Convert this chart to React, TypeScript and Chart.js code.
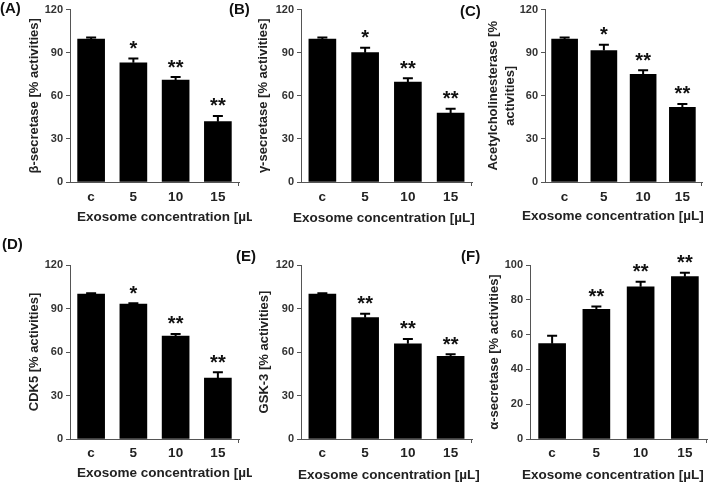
import React, { useEffect, useRef } from 'react';
import { Chart, registerables } from 'chart.js';

Chart.register(...registerables);

// ---------- data ----------
const categories = ['c', '5', '10', '15'];

const betaValues = [99.5, 83, 71, 42];
const betaErrors = [1, 3, 2, 4];
const betaMarks = ['', '*', '**', '**'];

const gammaValues = [99.5, 90, 69.5, 48];
const gammaErrors = [1, 3.5, 2.8, 3];
const gammaMarks = ['', '*', '**', '**'];

const achValues = [99.5, 91.5, 75, 52];
const achErrors = [1, 4, 2.7, 2.3];
const achMarks = ['', '*', '**', '**'];

const cdk5Values = [100, 93, 71, 42];
const cdk5Errors = [0.5, 0.6, 1.5, 4];
const cdk5Marks = ['', '*', '**', '**'];

const gskValues = [100, 83.7, 65.7, 57];
const gskErrors = [0.5, 2.7, 3.3, 1.4];
const gskMarks = ['', '**', '**', '**'];

const alphaValues = [54.8, 74.5, 87.5, 93.3];
const alphaErrors = [4.6, 1.7, 2.9, 2.3];
const alphaMarks = ['', '**', '**', '**'];

const yTicks120 = [0, 30, 60, 90, 120];
const yTicks100 = [0, 20, 40, 60, 80, 100];

const xTitleText = 'Exosome concentration [µL]';

// ---------- layout ----------
const FONT = '"Liberation Sans", Arial, sans-serif';
const AXIS = '#555';

type Spec = {
  label: string; labelLeft: number; labelTop: number;
  left: number; top: number; w: number; h: number;
  yWidth: number; padRight: number; padTop: number; xHeight: number; xPad: number;
  values: number[]; errors: number[]; marks: string[]; ticks: number[];
  yTitle: string[]; yTitleX: number[]; xTitleX: number; xTitleBase: number; barW: number;
};

const specs: Spec[] = [
  { label: '(A)', labelLeft: 0, labelTop: 0, left: 0, top: 0, w: 252, h: 233,
    yWidth: 70, padRight: 13, padTop: 8, xHeight: 51, xPad: 7,
    values: betaValues, errors: betaErrors, marks: betaMarks, ticks: yTicks120,
    yTitle: ['β-secretase [% activities]'], yTitleX: [34], xTitleX: 77, xTitleBase: 221, barW: 27 },
  { label: '(B)', labelLeft: 229, labelTop: 1, left: 252, top: 0, w: 228, h: 233,
    yWidth: 49, padRight: 8, padTop: 8, xHeight: 51, xPad: 7,
    values: gammaValues, errors: gammaErrors, marks: gammaMarks, ticks: yTicks120,
    yTitle: ['γ-secretase [% activities]'], yTitleX: [11], xTitleX: 41, xTitleBase: 222, barW: 27 },
  { label: '(C)', labelLeft: 460, labelTop: 3, left: 480, top: 0, w: 229, h: 233,
    yWidth: 65, padRight: 7, padTop: 8, xHeight: 51, xPad: 7,
    values: achValues, errors: achErrors, marks: achMarks, ticks: yTicks120,
    yTitle: ['Acetylcholinesterase [%', 'activities]'], yTitleX: [13, 30], xTitleX: 42, xTitleBase: 220, barW: 26 },
  { label: '(D)', labelLeft: 2, labelTop: 236, left: 0, top: 233, w: 252, h: 252,
    yWidth: 70, padRight: 13, padTop: 32, xHeight: 46, xPad: 6,
    values: cdk5Values, errors: cdk5Errors, marks: cdk5Marks, ticks: yTicks120,
    yTitle: ['CDK5 [% activities]'], yTitleX: [34], xTitleX: 77, xTitleBase: 244, barW: 27 },
  { label: '(E)', labelLeft: 236, labelTop: 248, left: 252, top: 233, w: 228, h: 252,
    yWidth: 49, padRight: 8, padTop: 32, xHeight: 46, xPad: 6,
    values: gskValues, errors: gskErrors, marks: gskMarks, ticks: yTicks120,
    yTitle: ['GSK-3 [% activities]'], yTitleX: [12], xTitleX: 46, xTitleBase: 246, barW: 27 },
  { label: '(F)', labelLeft: 461, labelTop: 248, left: 480, top: 233, w: 229, h: 252,
    yWidth: 50, padRight: 2, padTop: 32, xHeight: 46, xPad: 6,
    values: alphaValues, errors: alphaErrors, marks: alphaMarks, ticks: yTicks100,
    yTitle: ['α-secretase [% activities]'], yTitleX: [14], xTitleX: 42, xTitleBase: 246, barW: 27 },
];

function decoPlugin(s: Spec) {
  return {
    id: 'deco',
    afterDatasetsDraw(chart: any) {
      const ctx = chart.ctx;
      const area = chart.chartArea;
      const y = chart.scales.y;
      const meta = chart.getDatasetMeta(0);
      ctx.save();
      // error bars + significance marks
      meta.data.forEach((el: any, i: number) => {
        const top = y.getPixelForValue(s.values[i] + s.errors[i]);
        ctx.strokeStyle = '#000';
        ctx.lineWidth = 2;
        ctx.beginPath();
        ctx.moveTo(el.x, el.y);
        ctx.lineTo(el.x, top);
        ctx.moveTo(el.x - 5, top);
        ctx.lineTo(el.x + 5, top);
        ctx.stroke();
        if (s.marks[i]) {
          const size = 20;
          ctx.font = `bold ${size}px ${FONT}`;
          ctx.fillStyle = '#111';
          ctx.textAlign = 'center';
          ctx.textBaseline = 'alphabetic';
          ctx.fillText(s.marks[i], el.x, top - 14.5 + 0.55 * size);
        }
      });
      // end tick on x axis
      ctx.strokeStyle = AXIS;
      ctx.lineWidth = 1;
      ctx.beginPath();
      ctx.moveTo(Math.round(area.right) - 0.5, area.bottom);
      ctx.lineTo(Math.round(area.right) - 0.5, area.bottom + 4);
      ctx.stroke();
      // y title
      ctx.fillStyle = '#222';
      ctx.font = `bold 13px ${FONT}`;
      ctx.textAlign = 'center';
      ctx.textBaseline = 'middle';
      const cy = (area.top + area.bottom) / 2;
      s.yTitle.forEach((t, k) => {
        ctx.save();
        ctx.translate(s.yTitleX[k], cy);
        ctx.rotate(-Math.PI / 2);
        ctx.fillText(t, 0, 0);
        ctx.restore();
      });
      // x title
      ctx.font = `bold 13.5px ${FONT}`;
      ctx.textAlign = 'left';
      ctx.textBaseline = 'alphabetic';
      ctx.fillText(xTitleText, s.xTitleX, s.xTitleBase);
      ctx.restore();
    },
  };
}

function Panel({ spec }: { spec: Spec }) {
  const ref = useRef<HTMLCanvasElement>(null);
  useEffect(() => {
    const s = spec;
    const chart = new Chart(ref.current as HTMLCanvasElement, {
      type: 'bar',
      data: {
        labels: categories,
        datasets: [{ data: s.values, backgroundColor: '#000', borderWidth: 0, barThickness: s.barW }],
      },
      options: {
        animation: false,
        responsive: false,
        devicePixelRatio: 1,
        layout: { padding: { left: 0, right: s.padRight, top: s.padTop, bottom: 0 } },
        plugins: { legend: { display: false }, tooltip: { enabled: false } },
        scales: {
          x: {
            grid: { display: false, drawTicks: false },
            border: { display: true, color: AXIS, width: 1 },
            ticks: { color: '#222', padding: s.xPad, font: { family: FONT, size: 13.5, weight: 'bold' } },
            afterFit: (sc: any) => { sc.height = s.xHeight; },
          },
          y: {
            min: 0,
            max: s.ticks[s.ticks.length - 1],
            grid: { display: true, drawOnChartArea: false, drawTicks: true, tickLength: 4, color: AXIS },
            border: { display: true, color: AXIS, width: 1 },
            ticks: { color: '#333', padding: 3, font: { family: FONT, size: 11, weight: 'bold' } },
            afterBuildTicks: (sc: any) => { sc.ticks = s.ticks.map((v) => ({ value: v })); },
            afterFit: (sc: any) => { sc.width = s.yWidth; },
          },
        },
      } as any,
      plugins: [decoPlugin(s)],
    });
    return () => chart.destroy();
  }, [spec]);
  return (
    <canvas
      ref={ref}
      width={spec.w}
      height={spec.h}
      style={{ position: 'absolute', left: spec.left, top: spec.top, width: spec.w, height: spec.h }}
    />
  );
}

export default function App() {
  return (
    <div style={{ position: 'fixed', left: 0, top: 0, width: 709, height: 485, background: '#fff', overflow: 'hidden' }}>
      {specs.map((s) => (
        <Panel key={s.label} spec={s} />
      ))}
      {specs.map((s) => (
        <span
          key={'l' + s.label}
          style={{
            position: 'absolute', left: s.labelLeft, top: s.labelTop, font: `bold 15px ${FONT}`,
            lineHeight: '15px', color: '#111', whiteSpace: 'nowrap',
          }}
        >
          {s.label}
        </span>
      ))}
    </div>
  );
}
